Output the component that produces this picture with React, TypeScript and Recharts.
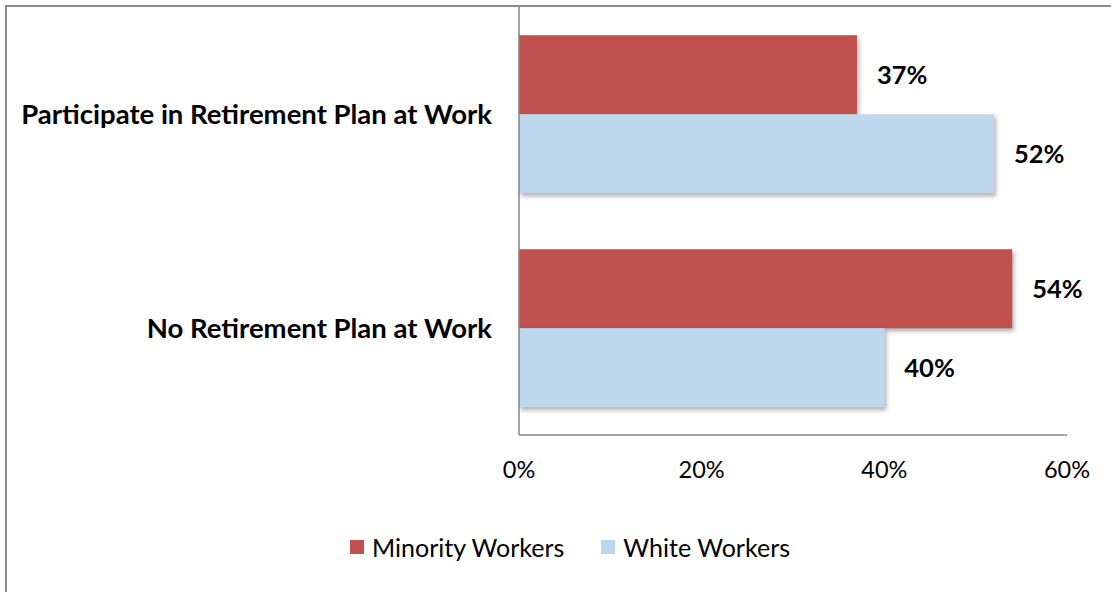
import React from 'react';
import { BarChart, Bar, XAxis, YAxis, LabelList, Legend } from 'recharts';

// categories and series
const categories = ['Participate in Retirement Plan at Work', 'No Retirement Plan at Work'];
const minorityWorkers = [37, 54];
const whiteWorkers = [52, 40];
const xTicks = [0, 20, 40, 60];

const series = [
  { key: 'minority', name: 'Minority Workers', color: '#C0504D' },
  { key: 'white', name: 'White Workers', color: '#BDD7EE' },
];

const data = categories.map((name, i) => ({
  name,
  minority: minorityWorkers[i],
  white: whiteWorkers[i],
}));

const FONT = 'Lato, "Open Sans", sans-serif';

// bar with a soft drop shadow like the original office chart
const ShadowBar = (props: any) => {
  const { x, y, width, height, fill } = props;
  return (
    <rect
      x={x}
      y={y}
      width={width}
      height={height}
      fill={fill}
      style={{ filter: 'drop-shadow(2px 3px 2px rgba(0,0,0,0.3))' }}
    />
  );
};

const renderLegend = () => (
  <div style={{ display: 'flex', justifyContent: 'center', alignItems: 'center', fontFamily: FONT, fontSize: 25, color: '#000' }}>
    {series.map((s, i) => (
      <div key={s.key} style={{ display: 'flex', alignItems: 'center', marginLeft: i ? 37 : 0 }}>
        <span style={{ width: 14, height: 14, background: s.color, display: 'inline-block', marginRight: 8 }} />
        <span>{s.name}</span>
      </div>
    ))}
  </div>
);

const App = () => {
  return (
    <div style={{ position: 'absolute', left: 0, top: 0, width: 1111, height: 592, overflow: 'hidden', background: '#fff' }}>
      {/* chart frame: only top and left edges are visible in the crop */}
      <div
        style={{
          position: 'absolute',
          left: 5,
          top: 5,
          width: 1300,
          height: 800,
          borderTop: '2px solid #8C8C8C',
          borderLeft: '2px solid #8C8C8C',
        }}
      />
      <div style={{ position: 'absolute', left: 0, top: 0 }}>
        <BarChart
          width={1111}
          height={592}
          data={data}
          layout="vertical"
          margin={{ top: 7, right: 44, left: 0, bottom: 117 }}
          barCategoryGap="13.2%"
          barGap={0}
        >
          <XAxis
            type="number"
            domain={[0, 60]}
            ticks={xTicks}
            tickFormatter={(v: number) => `${v}%`}
            axisLine={{ stroke: '#868686', strokeWidth: 1.5 }}
            tickLine={false}
            tickSize={0}
            tickMargin={26}
            height={40}
            tick={{ fill: '#000', fontSize: 23.5, fontFamily: FONT }}
          />
          <YAxis
            type="category"
            dataKey="name"
            width={519}
            axisLine={{ stroke: '#868686', strokeWidth: 1.5 }}
            tickLine={false}
            tickSize={0}
            tickMargin={27}
            tick={{ fill: '#000', fontSize: 27.5, fontWeight: 700, fontFamily: FONT }}
          />
          {series.map((s) => (
            <Bar
              key={s.key}
              dataKey={s.key}
              name={s.name}
              fill={s.color}
              shape={ShadowBar}
              isAnimationActive={false}
            >
              <LabelList
                dataKey={s.key}
                position="right"
                offset={20}
                formatter={(v: any) => `${v}%`}
                style={{ fill: '#000', fontSize: 25.5, fontWeight: 700, fontFamily: FONT }}
              />
            </Bar>
          ))}
          <Legend
            layout="horizontal"
            verticalAlign="middle"
            align="center"
            content={renderLegend}
            wrapperStyle={{ position: 'absolute', top: 532, left: 0, width: 1140 }}
          />
        </BarChart>
      </div>
    </div>
  );
};

export default App;
